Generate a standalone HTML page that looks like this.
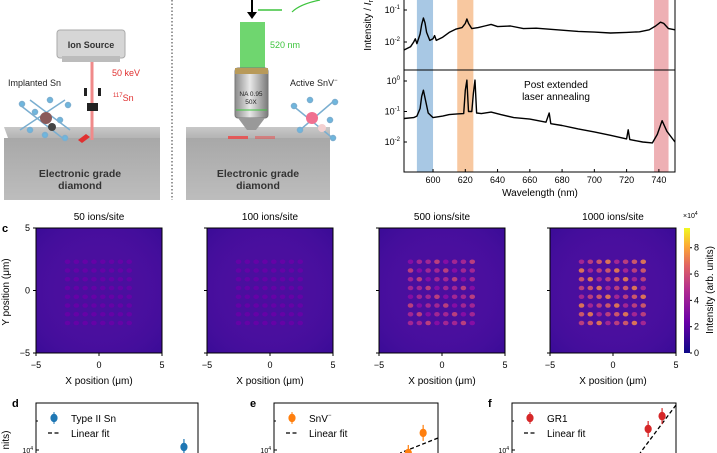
<!DOCTYPE html>
<html><head><meta charset="utf-8"><style>
body{margin:0;background:#fff;}
svg{display:block;font-family:"Liberation Sans",sans-serif;}
</style></head><body>
<svg id="fig" width="717" height="453" viewBox="0 0 717 453" xmlns="http://www.w3.org/2000/svg">
<defs>
<linearGradient id="plasma" x1="0" y1="1" x2="0" y2="0">
<stop offset="0" stop-color="#0d0887"/><stop offset="0.25" stop-color="#6a00a8"/><stop offset="0.5" stop-color="#b12a90"/><stop offset="0.7" stop-color="#e16462"/><stop offset="0.85" stop-color="#fca636"/><stop offset="1" stop-color="#f0f921"/>
</linearGradient>
<linearGradient id="blockTop" x1="0" y1="0" x2="0" y2="1"><stop offset="0" stop-color="#c8c8c8"/><stop offset="1" stop-color="#b4b4b4"/></linearGradient>
<linearGradient id="blockFront" x1="0" y1="0" x2="0" y2="1"><stop offset="0" stop-color="#a8a8a8"/><stop offset="1" stop-color="#bdbdbd"/></linearGradient>
<linearGradient id="objGrad" x1="0" y1="0" x2="1" y2="0"><stop offset="0" stop-color="#8a8a8a"/><stop offset="0.45" stop-color="#e8e8e8"/><stop offset="1" stop-color="#7a7a7a"/></linearGradient>
<radialGradient id="vign" cx="0.5" cy="0.5" r="0.7"><stop offset="0.4" stop-color="#4a10a0" stop-opacity="0"/><stop offset="1" stop-color="#2a0890" stop-opacity="0.5"/></radialGradient>
</defs>

<g>
<polygon points="4,127 160,127 160,138 8,138" fill="url(#blockTop)"/>
<rect x="4" y="138" width="156" height="62" fill="url(#blockFront)"/>
<text x="80" y="177" font-size="10.5" font-weight="bold" fill="#333" text-anchor="middle">Electronic grade</text>
<text x="80" y="189" font-size="10.5" font-weight="bold" fill="#333" text-anchor="middle">diamond</text>
<rect x="57" y="30" width="68" height="28" rx="3" fill="#d6d6d6" stroke="#aaa"/>
<rect x="62" y="56" width="58" height="6" fill="#bcbcbc"/>
<text x="91" y="48" font-size="9" font-weight="bold" fill="#333" text-anchor="middle">Ion Source</text>
<line x1="92" y1="62" x2="92" y2="140" stroke="#f08a8a" stroke-width="3"/>
<rect x="84" y="88" width="3" height="8" fill="#222"/><rect x="98" y="88" width="3" height="8" fill="#222"/>
<rect x="87" y="103" width="11" height="8" fill="#222"/>
<text x="112" y="76" font-size="9" fill="#e03030">50 keV</text>
<text x="113" y="101" font-size="9" fill="#e03030"><tspan font-size="6" dy="-4">117</tspan><tspan dy="4">Sn</tspan></text>
<text x="8" y="86" font-size="9" fill="#222">Implanted Sn</text>
<g stroke="#7aaed0" stroke-width="1.5" fill="#6cb8e0">
<line x1="20" y1="105" x2="65" y2="140"/><line x1="30" y1="100" x2="70" y2="130"/><line x1="20" y1="130" x2="65" y2="100"/>
<circle cx="22" cy="104" r="2.5"/><circle cx="35" cy="112" r="2.5"/><circle cx="50" cy="100" r="2.5"/><circle cx="60" cy="120" r="2.5"/><circle cx="30" cy="130" r="2.5"/><circle cx="65" cy="138" r="2.5"/><circle cx="45" cy="135" r="2.5"/><circle cx="68" cy="105" r="2.5"/>
</g>
<circle cx="46" cy="118" r="6" fill="#8a5a5a"/><circle cx="52" cy="127" r="4" fill="#444"/>
<polygon points="78,140 86,134 90,137 82,143" fill="#e03030"/>
</g>

<line x1="172" y1="0" x2="172" y2="200" stroke="#333" stroke-dasharray="1.5,2"/>

<g>
<polygon points="186,127 330,127 330,138 186,138" fill="url(#blockTop)"/>
<rect x="186" y="138" width="144" height="62" fill="url(#blockFront)"/>
<text x="258" y="177" font-size="10.5" font-weight="bold" fill="#333" text-anchor="middle">Electronic grade</text>
<text x="258" y="189" font-size="10.5" font-weight="bold" fill="#333" text-anchor="middle">diamond</text>
<rect x="240" y="22" width="25" height="46" fill="#6fd66f"/>
<text x="270" y="48" font-size="9" fill="#3ec43e">520 nm</text>
<line x1="252" y1="0" x2="252" y2="16" stroke="#000" stroke-width="2"/><polygon points="247,12 257,12 252,19" fill="#000"/>
<polyline points="258,10 282,10" stroke="#3ec43e" stroke-width="1.5" fill="none"/>
<path d="M292,12 Q300,4 320,0" stroke="#3ec43e" stroke-width="1.2" fill="none"/>
<rect x="235" y="68" width="33" height="50" rx="3" fill="url(#objGrad)" stroke="#777"/>
<rect x="235" y="68" width="33" height="6" fill="#b89a5a"/>
<line x1="236" y1="110" x2="267" y2="110" stroke="#3ec43e"/>
<polygon points="238,118 265,118 256,130 247,130" fill="#999"/>
<text x="251" y="96" font-size="6.5" fill="#222" text-anchor="middle">NA 0.95</text>
<text x="251" y="104" font-size="6.5" fill="#222" text-anchor="middle">50X</text>
<g fill="#e85050" opacity="0.9"><rect x="228" y="136" width="20" height="3"/><rect x="255" y="136" width="20" height="3" opacity="0.6"/></g>
<text x="290" y="86" font-size="9" fill="#222">Active SnV<tspan font-size="6" dy="-4">−</tspan></text>
<g stroke="#7aaed0" stroke-width="1.5" fill="#6cb8e0">
<line x1="292" y1="105" x2="335" y2="140"/><line x1="300" y1="130" x2="335" y2="100"/>
<circle cx="294" cy="106" r="2.5"/><circle cx="310" cy="100" r="2.5"/><circle cx="330" cy="120" r="2.5"/><circle cx="300" cy="130" r="2.5"/><circle cx="333" cy="138" r="2.5"/><circle cx="335" cy="102" r="2.5"/>
</g>
<circle cx="312" cy="118" r="6" fill="#f07090"/><circle cx="322" cy="128" r="4" fill="#f3d0d0"/>
</g>

<g id="spectra"></g>
<g id="maps"></g>
<g id="scaling"></g>
</svg>
<script>
const NS="http://www.w3.org/2000/svg";
// ---- spectra data ----
const wlTop=[582,586,588,589,590,592,593,594,595,596,598,600,601,602,606,610,614,618,620,621,622,624,628,632,636,640,648,656,664,672,680,690,700,710,720,728,734,738,741,743,746,750];
const logTop=[-2.25,-2.15,-2.0,-1.9,-2.05,-1.75,-1.45,-1.25,-1.4,-1.7,-1.95,-1.9,-1.8,-1.95,-1.85,-1.7,-1.6,-1.55,-1.42,-1.28,-1.42,-1.58,-1.55,-1.5,-1.45,-1.52,-1.5,-1.58,-1.57,-1.6,-1.63,-1.67,-1.69,-1.72,-1.7,-1.68,-1.62,-1.5,-1.38,-1.42,-1.58,-1.62];
const wlBot=[582,588,590,592,593,594,595,597,600,606,610,615,619,620,621,622,624,625,626,627,630,636,642,650,660,670,672,673,680,690,700,710,720,721,722,730,736,739,742,745,750];
const logBot=[-1.23,-1.2,-1.15,-0.9,-0.5,-0.3,-0.55,-1.05,-1.2,-1.15,-1.1,-1.08,-1.07,-0.3,0.03,-1.0,-1.0,-0.4,0.03,-1.05,-1.07,-1.02,-1.1,-1.2,-1.25,-1.35,-1.05,-1.4,-1.46,-1.57,-1.67,-1.78,-1.9,-1.6,-1.92,-2.0,-2.03,-1.75,-1.3,-1.65,-2.0];
const wlTicks=[600,620,640,660,680,700,720,740];
const bands=[[590,600,"#a8c8e4"],[615,625,"#f8c8a0"],[737,746,"#eeb0b4"]];
// ---- maps data ----
const mapTitles=["50 ions/site","100 ions/site","500 ions/site","1000 ions/site"];
const spotAmp=[0.15,0.45,3.2,4.6];
const spotX=[-2.5,-1.8,-1.1,-0.4,0.3,1.0,1.7,2.4];
const spotY=[2.3,1.6,0.9,0.2,-0.5,-1.2,-1.9,-2.6];
const bgLevel=[1.5,1.5,1.5,1.6];
const cbTicks=[0,2,4,6,8];
// ---- scaling data (x: log-dose units, y: log10 intensity) ----
const dPoints=[[4.84,4.1]];
const ePoints=[[4.82,4.57],[4.34,3.9]];
const fPoints=[[4.85,5.13],[4.4,4.7]];
const eFit=[[5.3,4.4],[4.08,3.9]];
const fFit=[[5.3,5.5],[4.14,3.9]];

function el(tag,attrs,parent,txt){const e=document.createElementNS(NS,tag);for(const k in attrs)e.setAttribute(k,attrs[k]);if(txt!==undefined)e.textContent=txt;parent.appendChild(e);return e;}

const sp=document.getElementById('spectra');
const L=404,R=675;
const xs=w=>L+(w-582)*(R-L)/(750-582);
const yTop=v=>42-(v+2)*32;
const yBot=v=>81-v*30.5;
bands.forEach(b=>{const r=el('rect',{x:xs(b[0]),y:0,width:xs(b[1])-xs(b[0]),height:172,fill:b[2]},sp);

});
el('rect',{x:L,y:-1,width:R-L,height:173,fill:"none",stroke:"#000","stroke-width":1},sp);
el('line',{x1:L,y1:70,x2:R,y2:70,stroke:"#000"},sp);
function spec(wl,lg,yf,name){let d=wl.map((w,i)=>(i?'L':'M')+xs(w).toFixed(1)+','+yf(lg[i]).toFixed(1)).join('');
const p=el('path',{d:d,fill:"none",stroke:"#000","stroke-width":1.4,"stroke-linejoin":"round"},sp);

}
spec(wlTop,logTop,yTop,'spectrum-as-implanted');
spec(wlBot,logBot,yBot,'spectrum-post-annealing');
[[-1,yTop],[-2,yTop],[0,yBot],[-1,yBot],[-2,yBot]].forEach(t=>{const y=t[1](t[0]);
el('line',{x1:L,y1:y,x2:L+3,y2:y,stroke:"#000"},sp);
const tx=el('text',{x:L-4,y:y+3,"font-size":9,"text-anchor":"end"},sp);
tx.appendChild(document.createTextNode('10'));el('tspan',{dy:-4,"font-size":6},tx,String(t[0]));});
wlTicks.forEach(w=>{el('line',{x1:xs(w),y1:172,x2:xs(w),y2:169,stroke:"#000"},sp);
el('text',{x:xs(w),y:183,"font-size":9,"text-anchor":"middle"},sp,String(w));});
el('text',{x:540,y:196,"font-size":10,"text-anchor":"middle"},sp,"Wavelength (nm)");
const yl=el('text',{x:0,y:0,"font-size":10,"text-anchor":"middle",transform:"translate(371,20) rotate(-90)"},sp);
yl.innerHTML='Intensity / <tspan font-style="italic">I</tspan><tspan font-size="7" dy="2">max</tspan>';
el('text',{x:556,y:88,"font-size":10,"text-anchor":"middle"},sp,"Post extended");
el('text',{x:556,y:100,"font-size":10,"text-anchor":"middle"},sp,"laser annealing");

const mp=document.getElementById('maps');
const mapL=[36,207,379,550],mapW=126,mT=228,mB=353;
const plasma=["#0d0887","#41049d","#6a00a8","#8f0da4","#b12a90","#cc4778","#e16462","#f2844b","#fca636","#fcce25","#f0f921"];
const col=v=>plasma[Math.max(0,Math.min(10,Math.round(v/9.5*10)))];
mapTitles.forEach((t,i)=>{
const x0=mapL[i];const mx=u=>x0+(u+5)*mapW/10;const my=u=>mT+(5-u)*(mB-mT)/10;
const bg=el('rect',{x:x0,y:mT,width:mapW,height:mB-mT,fill:"#4a0f9e"},mp);


el('rect',{x:x0,y:mT,width:mapW,height:mB-mT,fill:"url(#vign)"},mp);
spotY.forEach((sy,ri)=>spotX.forEach((sx,ci)=>{
const a=spotAmp[i]*(0.55+0.45*((ri*3+ci*5)%4)/3);
const c=el('ellipse',{cx:mx(sx),cy:my(sy),rx:2.8,ry:2.3,fill:col(bgLevel[i]+a),opacity:0.85},mp);

}));
el('rect',{x:x0,y:mT,width:mapW,height:mB-mT,fill:"none",stroke:"#000","stroke-width":1},mp);
el('text',{x:x0+mapW/2,y:220,"font-size":10,"text-anchor":"middle"},mp,t);
[-5,0,5].forEach(u=>{el('line',{x1:mx(u),y1:mB,x2:mx(u),y2:mB+3,stroke:"#000"},mp);
el('text',{x:mx(u),y:368,"font-size":9,"text-anchor":"middle"},mp,u<0?"−5":String(u));
el('line',{x1:x0,y1:my(u),x2:x0-3,y2:my(u),stroke:"#000"},mp);
if(i===0)el('text',{x:x0-6,y:my(u)+3,"font-size":9,"text-anchor":"end"},mp,u<0?"−5":String(u));});
el('text',{x:x0+mapW/2,y:384,"font-size":10,"text-anchor":"middle"},mp,"X position (μm)");
});
el('text',{x:0,y:0,"font-size":10,"text-anchor":"middle",transform:"translate(9,292) rotate(-90)"},mp,"Y position (μm)");
el('text',{x:2,y:232,"font-size":11,"font-weight":"bold"},mp,"c");
const cb=el('rect',{x:684,y:mT,width:6,height:mB-mT,fill:"url(#plasma)"},mp);


cbTicks.forEach(v=>{const y=mB-v*(mB-mT)/9.5;el('line',{x1:690,y1:y,x2:692,y2:y,stroke:"#000"},mp);
el('text',{x:694,y:y+3,"font-size":9},mp,String(v));});
const ex=el('text',{x:683,y:218,"font-size":7},mp,"×10");el('tspan',{dy:-3,"font-size":5},ex,"4");
el('text',{x:0,y:0,"font-size":10,"text-anchor":"middle",transform:"translate(713,290) rotate(-90)"},mp,"Intensity (arb. units)");

const sc=document.getElementById('scaling');
const panels=[{l:36,r:198,lab:"d",pts:dPoints,c:"#1f77b4",name:"Type II Sn",fit:null},
{l:274,r:438,lab:"e",pts:ePoints,c:"#ff7f0e",name:"SnV",fit:eFit},
{l:512,r:676,lab:"f",pts:fPoints,c:"#d62728",name:"GR1",fit:fFit}];
panels.forEach(p=>{
const T=403;const px=u=>p.l+u*(p.r-p.l)/5.3;const py=v=>450-(v-4)*30;
el('path',{d:`M${p.l},460V${T}H${p.r}V460`,fill:"none",stroke:"#000"},sc);
el('text',{x:p.l-24,y:T+4,"font-size":11,"font-weight":"bold"},sc,p.lab);
el('line',{x1:p.l,y1:450,x2:p.l+3,y2:450,stroke:"#000"},sc);
el('line',{x1:p.l,y1:421,x2:p.l+2,y2:421,stroke:"#000"},sc);
const tk=el('text',{x:p.l-3,y:453,"font-size":7,"text-anchor":"end"},sc,"10");el('tspan',{dy:-3,"font-size":5},tk,"4");
if(p.fit){const f=el('line',{x1:px(p.fit[0][0]),y1:py(p.fit[0][1]),x2:px(p.fit[1][0]),y2:py(p.fit[1][1]),stroke:"#000","stroke-dasharray":"4,2.5","stroke-width":1.3},sc);

}
p.pts.forEach(q=>{el('line',{x1:px(q[0]),y1:py(q[1])-8,x2:px(q[0]),y2:py(q[1])+8,stroke:p.c,"stroke-width":1.2},sc);
const c=el('ellipse',{cx:px(q[0]),cy:py(q[1]),rx:3.6,ry:4.2,fill:p.c},sc);

});
el('line',{x1:p.l+18,y1:412,x2:p.l+18,y2:424,stroke:p.c},sc);
el('ellipse',{cx:p.l+18,cy:418,rx:3.6,ry:4.2,fill:p.c},sc);
const lt=el('text',{x:p.l+35,y:422,"font-size":10},sc,p.name);
if(p.lab==="e")el('tspan',{dy:-5,"font-size":6},lt,"−");
el('line',{x1:p.l+12,y1:433,x2:p.l+25,y2:433,stroke:"#000","stroke-dasharray":"4,2.5","stroke-width":1.3},sc);
el('text',{x:p.l+35,y:437,"font-size":10},sc,"Linear fit");
});
el('text',{x:0,y:0,"font-size":10,"text-anchor":"middle",transform:"translate(9,440) rotate(-90)"},sc,"nits)");
</script>
</body></html>
